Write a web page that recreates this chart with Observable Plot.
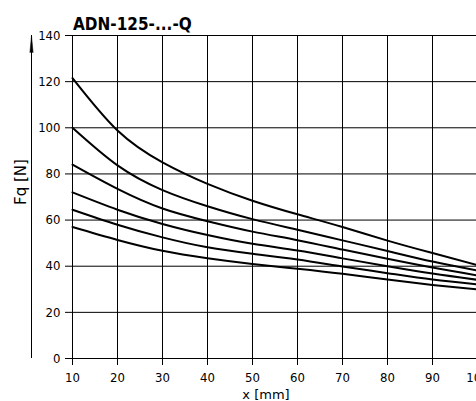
<!DOCTYPE html>
<html>
<head>
<meta charset="utf-8">
<script src="https://cdn.jsdelivr.net/npm/d3@7"></script>
<script src="https://cdn.jsdelivr.net/npm/@observablehq/plot@0.6"></script>
<style>
  html, body { margin: 0; padding: 0; background: white; overflow: hidden; }
  #wrap { position: relative; width: 476px; height: 401px; }
  #title { position: absolute; left: 73px; top: 16px; font-family: "DejaVu Sans Condensed", "DejaVu Sans", sans-serif; font-weight: bold; font-size: 17px; line-height: 17px; color: black; white-space: nowrap; z-index: 2; }
</style>
</head>
<body>
<div id="wrap">
  <div id="title"></div>
  <div id="chart"></div>
</div>
<script>
const titleText = "ADN-125-...-Q";
const xLabel = "x [mm]";
const yLabel = "Fq [N]";
const xTicks = [10, 20, 30, 40, 50, 60, 70, 80, 90, 100];
const yTicks = [0, 20, 40, 60, 80, 100, 120, 140];
const xValues = [10, 20, 30, 40, 50, 60, 70, 80, 90, 100];
const curve1 = [121.5, 98.8, 85.0, 75.7, 68.4, 62.5, 57.0, 51.1, 45.7, 40.5];
const curve2 = [100.0, 83.7, 73.0, 66.0, 60.4, 55.8, 51.2, 46.6, 42.0, 38.1];
const curve3 = [84.0, 73.5, 65.0, 59.5, 55.0, 51.3, 47.2, 43.2, 39.4, 36.0];
const curve4 = [72.0, 64.5, 58.3, 53.5, 49.7, 46.8, 43.4, 40.0, 36.8, 34.1];
const curve5 = [64.5, 58.0, 52.5, 48.2, 45.4, 42.9, 39.9, 37.0, 34.2, 32.1];
const curve6 = [57.0, 51.4, 46.7, 43.5, 41.0, 38.9, 36.7, 34.2, 31.9, 29.9];

const series = [curve1, curve2, curve3, curve4, curve5, curve6];
const data = series.flatMap((s, i) => xValues.map((x, j) => ({x, y: s[j], series: i})));
const xMin = xTicks[0], xMax = xTicks[xTicks.length - 1];
const yMin = yTicks[0], yMax = yTicks[yTicks.length - 1];

document.getElementById("title").textContent = titleText;

const chart = Plot.plot({
  width: 476,
  height: 401,
  marginLeft: 72,
  marginRight: -1,
  marginTop: 35,
  marginBottom: 43,
  x: {domain: [xMin, xMax]},
  y: {domain: [yMin, yMax]},
  style: {fontFamily: "'DejaVu Sans Condensed', 'DejaVu Sans', sans-serif", fontSize: "13px", color: "black", background: "transparent", overflow: "visible"},
  marks: [
    Plot.gridX(xTicks, {stroke: "black", strokeOpacity: 1, strokeWidth: 1}),
    Plot.gridY(yTicks, {stroke: "black", strokeOpacity: 1, strokeWidth: 1}),
    Plot.axisX({ticks: xTicks, tickSize: 7, tickPadding: 7, label: null, stroke: "black"}),
    Plot.axisY({ticks: yTicks, tickSize: 7, tickPadding: 5, label: null, stroke: "black"}),
    Plot.ruleX([xMin], {y1: yMin, y2: yMax, dx: -41, stroke: "black", strokeWidth: 1}),
    Plot.vector([{x: xMin, y: yMax}], {x: "x", y: "y", length: 17, rotate: 0, shape: "spike", r: 1.6, anchor: "end", fill: "black", stroke: "black", strokeWidth: 0.5, dx: -41}),
    Plot.line(data, {x: "x", y: "y", z: "series", stroke: "black", strokeWidth: 2, curve: "natural"}),
    Plot.text([yLabel], {frameAnchor: "left", rotate: -90, dx: -51, dy: -15, fontSize: 15, fontFamily: "'DejaVu Sans', sans-serif", fill: "black", textAnchor: "middle", lineAnchor: "middle"}),
    Plot.text([xLabel], {frameAnchor: "bottom", dx: -9, dy: 31, fontSize: 13, fontFamily: "'DejaVu Sans', sans-serif", fill: "black", lineAnchor: "top", textAnchor: "middle", letterSpacing: "0.8px"})
  ]
});
document.getElementById("chart").appendChild(chart);
</script>
</body>
</html>
